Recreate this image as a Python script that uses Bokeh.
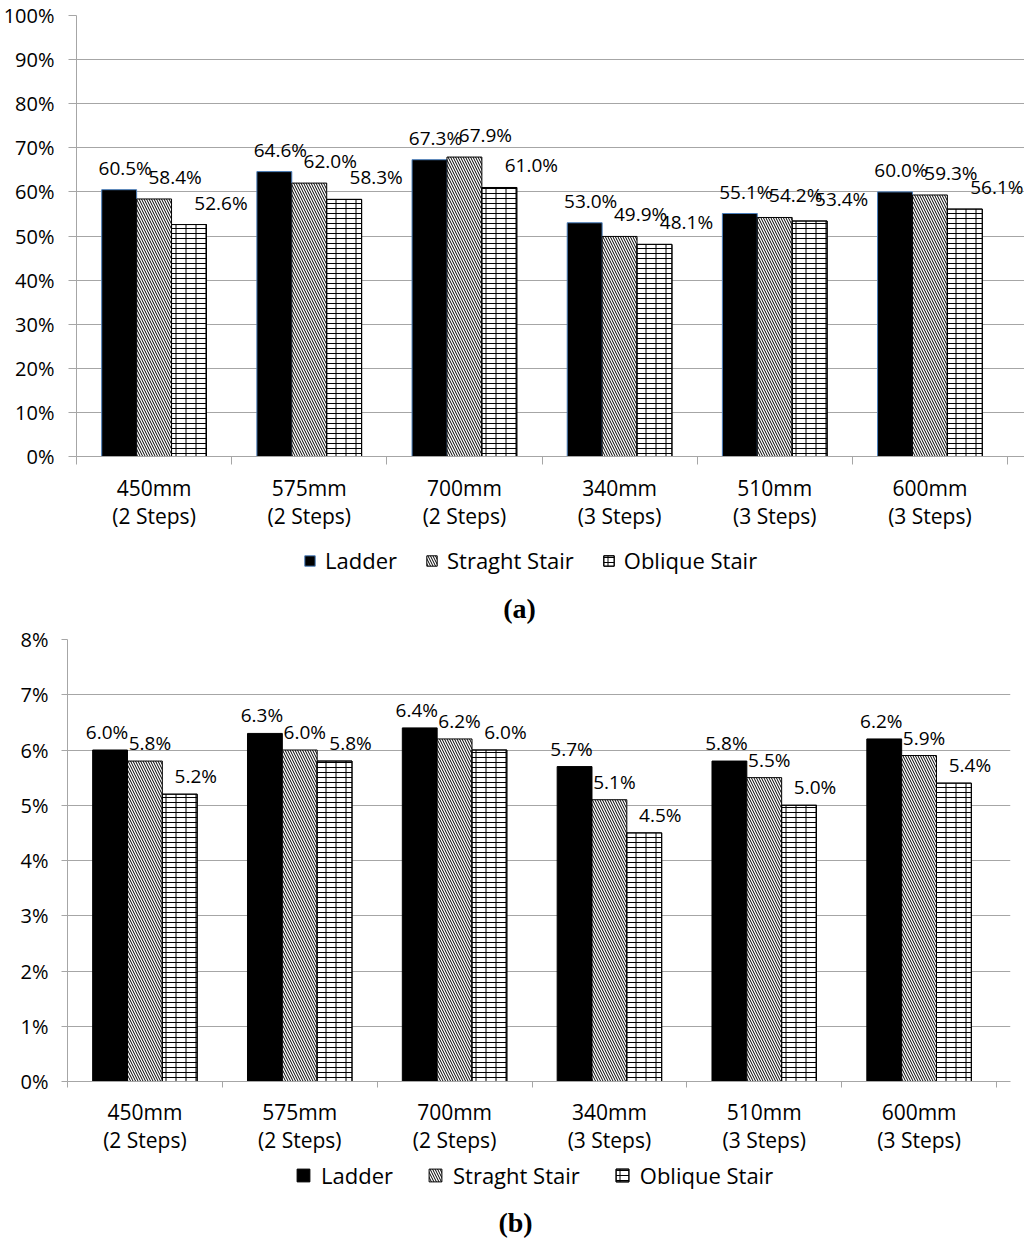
import numpy as np
from bokeh.plotting import figure
from bokeh.models import (ColumnDataSource, Range1d, FixedTicker, PrintfTickFormatter,
                          Legend, LegendItem, Label)
from bokeh.core.properties import value
from bokeh.embed import file_html
from bokeh.resources import INLINE

# ---------------- data ----------------
categories = ["450mm\n(2 Steps)", "575mm\n(2 Steps)", "700mm\n(2 Steps)",
              "340mm\n(3 Steps)", "510mm\n(3 Steps)", "600mm\n(3 Steps)"]
series_names = ["Ladder", "Straght Stair", "Oblique Stair"]

ladder_a = [60.5, 64.6, 67.3, 53.0, 55.1, 60.0]
straight_a = [58.4, 62.0, 67.9, 49.9, 54.2, 59.3]
oblique_a = [52.6, 58.3, 61.0, 48.1, 53.4, 56.1]
yticks_a = [0, 10, 20, 30, 40, 50, 60, 70, 80, 90, 100]

ladder_b = [6.0, 6.3, 6.4, 5.7, 5.8, 6.2]
straight_b = [5.8, 6.0, 6.2, 5.1, 5.5, 5.9]
oblique_b = [5.2, 5.8, 6.0, 4.5, 5.0, 5.4]
yticks_b = [0, 1, 2, 3, 4, 5, 6, 7, 8]

# ---------------- styles ----------------
FONT = "Open Sans"
GRID = "#a6a6a6"
BAR_W = 0.225


def series_styles(ladder_edge):
    # each series is a list of layers (brick = horizontal lines + vertical lines)
    return [
        [dict(fill_color="black", line_color=ladder_edge)],
        [dict(fill_color="white", line_color="black", hatch_pattern="\\",
              hatch_scale=5, hatch_weight=1, hatch_color="black")],
        [dict(fill_color="white", line_color="black", hatch_pattern="-",
              hatch_scale=5, hatch_weight=1, hatch_color="black"),
         dict(fill_color=None, line_color="black", hatch_pattern="|",
              hatch_scale=10, hatch_weight=1, hatch_color="black")],
    ]


def bar_sources(series):
    centers = np.arange(len(categories)) + 0.5
    out = []
    for j, vals in enumerate(series):
        xs = centers + (j - 1) * BAR_W
        out.append(ColumnDataSource(dict(x=xs, top=vals,
                                         label=[f"{v:.1f}%" for v in vals])))
    return out


def make_chart(series, yticks, frame_w, frame_h, min_left, min_right, min_top,
               min_bottom, label_dx, label_dy, ladder_edge, tick_out, ystandoff, xstandoff,
               right_extra=0):
    n = len(categories)
    centers = np.arange(n) + 0.5
    # the frame may run a few px past the last group so outer labels are not cut
    x_end = n * (frame_w + right_extra) / frame_w
    p = figure(frame_width=frame_w + right_extra, frame_height=frame_h,
               output_backend="svg", toolbar_location=None,
               x_range=Range1d(0, x_end), y_range=Range1d(yticks[0], yticks[-1]),
               min_border_left=min_left, min_border_right=min_right - right_extra,
               min_border_top=min_top, min_border_bottom=min_bottom,
               background_fill_color="white", border_fill_color="white")
    p.outline_line_color = None
    p.title.visible = False

    p.yaxis.ticker = FixedTicker(ticks=yticks)
    p.yaxis.formatter = PrintfTickFormatter(format="%d%%")
    p.yaxis.axis_line_color = GRID
    p.yaxis.major_tick_line_color = GRID
    p.yaxis.major_tick_out = tick_out
    p.yaxis.major_tick_in = 0
    p.yaxis.minor_tick_line_color = None
    p.yaxis.major_label_standoff = ystandoff
    p.yaxis.major_label_text_font = FONT
    p.yaxis.major_label_text_font_size = "20px"
    p.yaxis.major_label_text_color = "black"
    p.ygrid.ticker = FixedTicker(ticks=yticks)
    p.ygrid.grid_line_color = GRID
    p.xgrid.grid_line_color = None

    p.xaxis.ticker = FixedTicker(ticks=list(centers), minor_ticks=list(np.arange(n + 1)))
    p.xaxis.major_label_overrides = {float(c): lab for c, lab in zip(centers, categories)}
    p.xaxis.axis_line_color = GRID
    p.xaxis.major_tick_line_color = None
    p.xaxis.minor_tick_line_color = GRID
    p.xaxis.minor_tick_out = tick_out
    p.xaxis.minor_tick_in = 0
    p.xaxis.major_label_standoff = xstandoff
    p.xaxis.major_label_text_font = FONT
    p.xaxis.major_label_text_font_size = "21px"
    p.xaxis.major_label_text_line_height = 1.0
    p.xaxis.major_label_text_color = "black"

    for j, (src, layers) in enumerate(zip(bar_sources(series), series_styles(ladder_edge))):
        for st in layers:
            p.vbar(x="x", top="top", bottom=0, width=BAR_W, source=src, line_width=1, **st)
        p.text(x="x", y="top", text="label", source=src,
               x_offset=label_dx[j], y_offset=label_dy,
               text_font=value(FONT), text_font_size="19px",
               text_align="center", text_baseline="middle", text_color="black")
    return p


def make_legend(series, caption, height, ladder_edge, leg_x, leg_y, glyph, standoff,
                spacing, cap_x, cap_y):
    # legend-only strip: the bars live outside this strip's visible x range
    p = figure(width=1024, height=height, output_backend="svg", toolbar_location=None,
               x_range=Range1d(-20, -19), y_range=Range1d(0, 1),
               x_axis_location=None, y_axis_location=None, min_border=0,
               background_fill_color="white", border_fill_color="white")
    p.outline_line_color = None
    p.title.visible = False
    p.xgrid.visible = False
    p.ygrid.visible = False
    items = []
    for name, src, layers in zip(series_names, bar_sources(series),
                                 series_styles(ladder_edge)):
        rs = [p.vbar(x="x", top="top", bottom=0, width=BAR_W, source=src, line_width=1, **st)
              for st in layers]
        items.append(LegendItem(label=name, renderers=rs, index=0))
    legend = Legend(items=items, orientation="horizontal", location=(leg_x, leg_y),
                    glyph_width=glyph, glyph_height=glyph, label_standoff=standoff,
                    spacing=spacing, padding=0, margin=0,
                    label_text_font=FONT, label_text_font_size="22px",
                    label_text_color="black",
                    border_line_color=None, background_fill_alpha=0)
    p.add_layout(legend)
    p.add_layout(Label(x=cap_x, y=cap_y, x_units="screen", y_units="screen", text=caption,
                       text_font="Liberation Serif", text_font_style="bold",
                       text_font_size="28px", text_color="black",
                       text_align="center", text_baseline="middle"))
    return p


series_a = [ladder_a, straight_a, oblique_a]
series_b = [ladder_b, straight_b, oblique_b]

pa = make_chart(series_a, yticks_a, frame_w=931, frame_h=441,
                min_left=76, min_right=17, min_top=15, min_bottom=80,
                label_dx=[6, 21, 32], label_dy=-22, ladder_edge="#4a7ebb",
                tick_out=8, ystandoff=14, xstandoff=9, right_extra=17)
la = make_legend(series_a, "(a)", 88, "#4a7ebb", leg_x=303, leg_y=49, glyph=13, standoff=9,
                 spacing=28, cap_x=519, cap_y=16)
pb = make_chart(series_b, yticks_b, frame_w=929, frame_h=442,
                min_left=67, min_right=28, min_top=15, min_bottom=76,
                label_dx=[-3, 5, 16], label_dy=-18, ladder_edge="black",
                tick_out=6, ystandoff=13, xstandoff=10, right_extra=14)
lb = make_legend(series_b, "(b)", 91, "black", leg_x=295, leg_y=58, glyph=16, standoff=10,
                 spacing=34, cap_x=515, cap_y=26)

open("out.html", "w").write(file_html([pa, la, pb, lb], INLINE))
